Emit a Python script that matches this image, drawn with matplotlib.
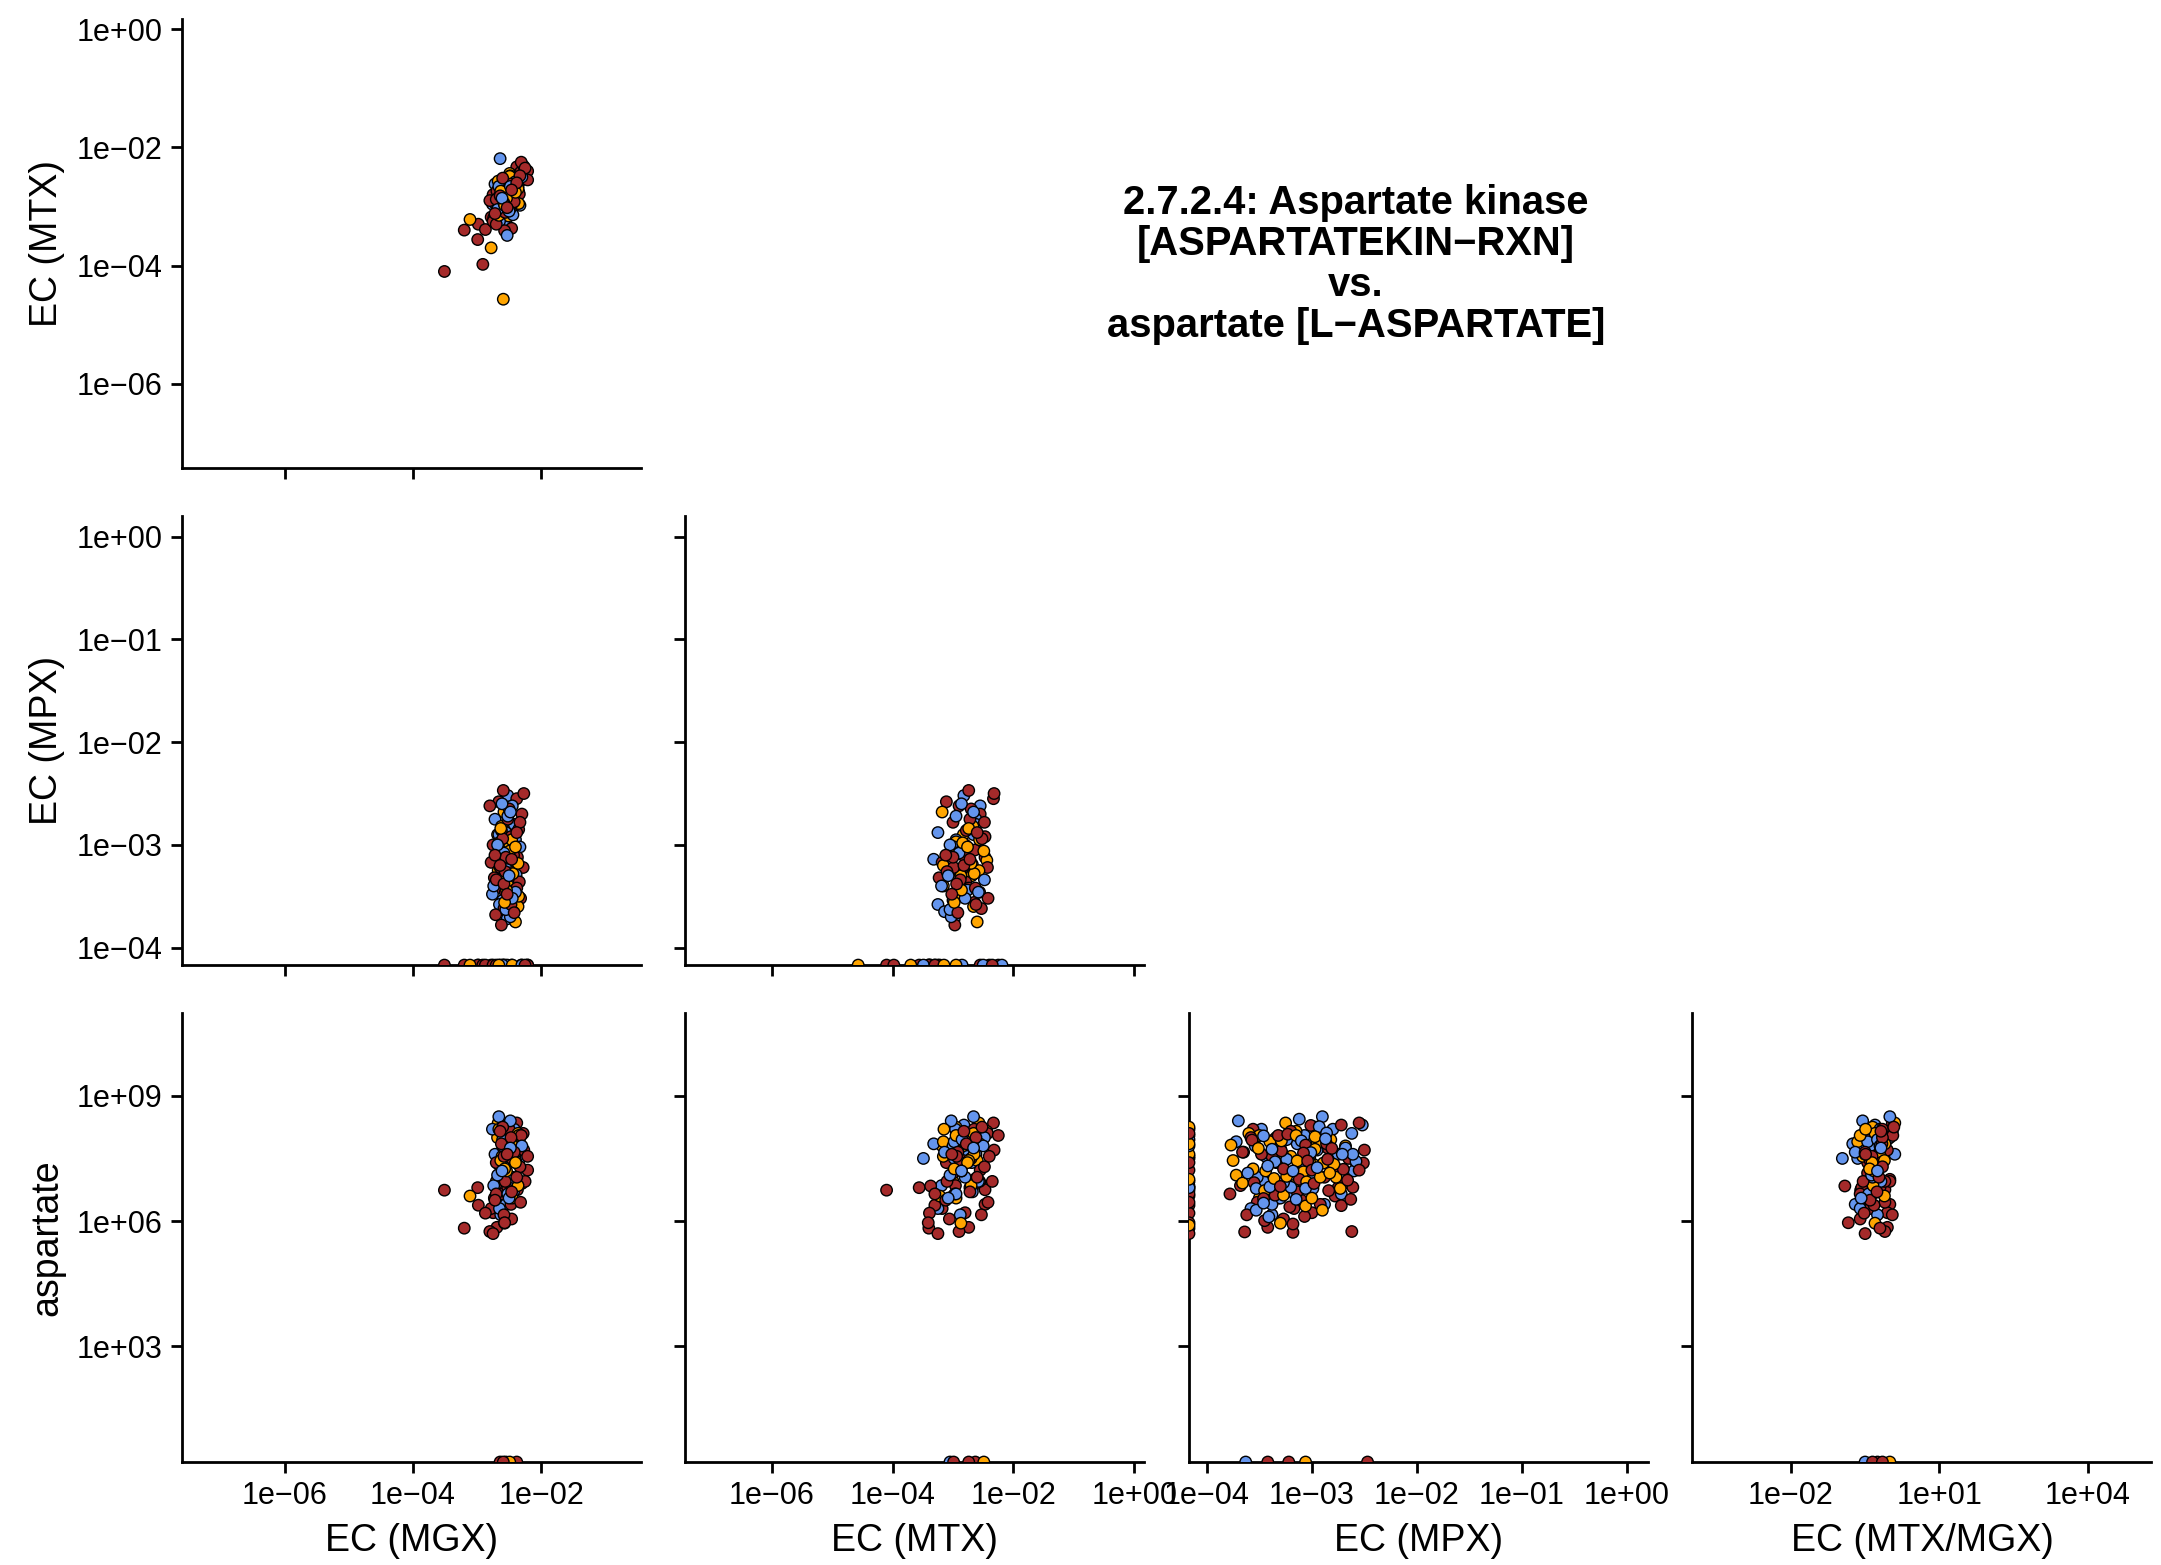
import numpy as np
import matplotlib
matplotlib.use("Agg")
import matplotlib.pyplot as plt

plt.rcParams['font.family'] = ['Liberation Sans', 'DejaVu Sans']

ND = -np.inf   # not detected (zero), drawn on the axis edge
NA = np.nan    # not measured

# samples with metagenome / metatranscriptome (log10 values)
grp = ['b', 'r', 'r', 'b', 'o', 'r', 'b', 'r', 'b', 'o',
       'r', 'b', 'o', 'r', 'b', 'o', 'r', 'b', 'o', 'r',
       'b', 'o', 'r', 'b', 'o', 'r', 'b', 'o', 'r', 'b',
       'o', 'r', 'b', 'o', 'r', 'b', 'r', 'b', 'o', 'r',
       'b', 'r', 'b', 'o', 'r', 'b', 'r', 'b', 'o', 'r',
       'b', 'r', 'b', 'o', 'r', 'r', 'b', 'r', 'o', 'r',
       'b', 'o', 'r', 'b', 'o', 'b', 'r', 'r', 'o', 'r',
       'r', 'r', 'r', 'r', 'r', 'o', 'o', 'o', 'r', 'r',
       'r', 'b', 'r', 'r', 'r', 'b', 'r', 'b', 'o', 'r',
       'b', 'r', 'o',
       'r', 'b', 'o', 'r', 'b', 'r', 'o', 'r', 'b', 'r',
       'o', 'r', 'b', 'r', 'o', 'r', 'b', 'r', 'o', 'r',
       'b', 'r', 'o', 'r', 'b', 'r', 'o', 'r', 'b', 'r']
mgx = [-2.52, -2.38, -2.66, -2.45, -2.58, -2.30, -2.72, -2.50, -2.42, -2.62,
       -2.35, -2.55, -2.68, -2.47, -2.40, -2.60, -2.75, -2.33, -2.54, -2.64,
       -2.44, -2.70, -2.37, -2.57, -2.49, -2.78, -2.43, -2.61, -2.28, -2.53,
       -2.67, -2.46, -2.39, -2.59, -2.73, -2.48, -2.34, -2.63, -2.51, -2.69,
       -2.41, -2.56, -2.76, -2.45, -2.32, -2.60, -2.50, -2.65, -2.36, -2.58,
       -2.44, -2.71, -2.53, -2.40, -2.62, -2.80, -2.48, -2.27, -2.57, -2.43,
       -2.66, -2.35, -2.52, -2.74, -2.46, -2.55, -2.38, -2.64, -2.49, -2.59,
       -3.51, -3.20, -2.98, -2.99, -2.91, -3.11, -2.78, -2.59, -2.87, -2.46,
       -2.57, -2.53, -2.21, -2.21, -2.31, -2.64, -2.75, -2.60, -2.45, -2.70,
       -2.30, -2.25, -2.66,
       -2.50, -2.58, -2.44, -2.62, -2.40, -2.55, -2.66, -2.47, -2.52, -2.70,
       -2.36, -2.60, -2.45, -2.56, -2.63, -2.42, -2.68, -2.33, -2.54, -2.72,
       -2.48, -2.58, -2.40, -2.64, -2.50, -2.38, -2.57, -2.46, -2.61, -2.53]
mtx = [-2.82, -2.33, -3.11, -2.55, -3.18, -2.55, -2.62, -3.00, -2.62, -2.67,
       -2.75, -3.25, -2.83, -2.47, -2.95, -2.95, -2.80, -2.98, -2.74, -2.64,
       -2.89, -3.00, -2.47, -3.32, -2.44, -3.18, -2.68, -3.16, -2.43, -2.88,
       -2.57, -3.06, -2.69, -2.69, -3.23, -2.48, -2.79, -2.88, -3.16, -2.74,
       -2.76, -2.56, -2.96, -2.95, -2.42, -3.00, -2.65, -3.25, -2.66, -2.53,
       -3.14, -2.96, -2.98, -2.60, -2.97, -2.90, -3.03, -2.32, -2.87, -2.83,
       -2.66, -2.95, -2.72, -3.19, -2.56, -3.05, -2.63, -2.99, -2.49, -2.74,
       -4.10, -3.40, -3.30, -3.56, -3.98, -3.22, -3.70, -4.57, -3.39, -3.37,
       -3.41, -3.49, -2.40, -2.55, -2.25, -2.19, -3.25, -2.85, -2.95, -3.30,
       -2.50, -2.35, -3.15,
       -2.70, -2.90, -2.65, -2.78, -2.58, -3.00, -2.84, -2.62, -2.95, -2.88,
       -2.70, -2.52, -2.80, -3.10, -2.74, -2.92, -3.05, -2.48, -2.86, -3.12,
       -2.66, -2.94, -2.76, -2.82, -3.08, -2.60, -2.98, -2.72, -2.86, -3.02]
mpx = [-2.52, -2.55, -2.58, -2.62, -2.68, -2.70, -2.75, -2.78, -2.80, -2.82,
       -2.85, -2.88, -2.90, -2.92, -2.95, -2.97, -3.00, -3.02, -3.04, -3.05,
       -3.07, -3.10, -3.12, -3.14, -3.15, -3.17, -3.19, -3.20, -3.22, -3.24,
       -3.25, -3.27, -3.29, -3.30, -3.32, -3.34, -3.36, -3.38, -3.40, -3.42,
       -3.44, -3.46, -3.48, -3.50, -3.52, -3.54, -3.56, -3.58, -3.60, -3.62,
       -3.65, -3.68, -3.72, -3.75, -3.78, -2.62, -3.70, -2.50, -3.30, -3.10,
       -2.90, -3.50, -2.75, -3.40, -2.95, -3.63, -3.42, -3.22, -3.06, -2.47,
       ND, ND, ND, ND, ND, ND, ND, ND, ND, ND,
       ND, ND, ND, ND, ND, ND, ND, ND, ND, ND,
       ND, ND, ND,
       -2.65, -3.08, -3.28, -2.86, -3.46, -3.12, -2.98, -3.58, -2.72, -3.34,
       -3.18, -2.94, -3.52, -3.26, -2.84, -3.66, -3.00, -2.78, -3.44, -3.10,
       -2.68, -3.38, -3.02, -3.20, -3.30, -2.88, -3.56, -3.14, -2.60, -3.48]
asp = [8.30, 8.35, 7.40, 8.10, 7.80, 6.90, 7.60, 6.60, 8.20, 7.95,
       7.75, 6.40, 8.00, 6.40, 7.70, 8.25, 6.20, 7.50, 7.65, 7.00,
       8.05, 6.95, 6.75, 7.85, 8.15, 6.30, 6.70, 7.55, 8.10, 7.95,
       8.35, 6.05, 7.40, 7.75, 6.55, 8.00, 7.95, 6.15, 7.90, 5.85,
       7.55, 6.95, 8.20, 6.55, 6.45, 7.80, 8.20, 6.30, 8.10, 6.15,
       7.65, 6.85, 7.90, 7.45, 6.65, 5.75, 8.40, 7.70, 5.95, 7.45,
       8.50, 8.05, 6.80, 6.85, 7.85, ND, ND, ND, ND, ND,
       6.74, 5.83, 6.38, 6.80, NA, 6.60, NA, NA, 6.19, 6.84,
       5.96, 7.50, 7.55, 7.22, 8.05, NA, 5.70, 7.95, 7.60, 6.65,
       7.80, 6.95, 8.20,
       7.50, 7.30, 7.60, 7.85, 6.95, 7.15, 7.35, 8.00, 6.65, 7.40,
       6.85, 8.25, 7.05, 6.95, 7.45, 7.65, 7.10, 7.30, 7.20, 6.50,
       7.75, 7.55, 7.40, 8.15, 6.55, 7.05, 7.25, 6.70, 7.20, 7.60]

# samples with metaproteome + metabolome only (log10 values)
grp_p = ['o', 'b', 'r', 'r', 'r', 'r', 'r', 'r', 'r', 'o',
         'r', 'r', 'r', 'b', 'b', 'r', 'o', 'o', 'b', 'b',
         'b', 'b', 'r', 'o', 'b', 'b', 'r', 'b', 'o', 'r',
         'r', 'o', 'r', 'b', 'r', 'o', 'b', 'b', 'r', 'o',
         'r', 'b', 'o', 'b', 'b', 'b', 'b', 'r', 'b', 'o',
         'r', 'r', 'o', 'b', 'o', 'b', 'r', 'o', 'b', 'r',
         'o', 'r', 'o', 'o', 'r', 'o', 'r', 'r', 'o', 'b',
         'b', 'r', 'o', 'b', 'o', 'r', 'r', 'b', 'o', 'r',
         'b', 'o', 'b', 'r', 'o',
         'o', 'o', 'r', 'b', 'r', 'o', 'r', 'o']
mpx_p = [-3.77, -3.12, -2.72, -3.01, -3.64, -3.18, -3.18, -3.45, -3.07, -2.90,
         -2.72, -2.63, -2.51, -2.58, -2.61, -2.55, -3.72, -3.66, -3.61, -3.53,
         -3.41, -3.46, -3.57, -3.51, -2.93, -2.86, -2.81, -2.71, -2.77, -2.70,
         -2.61, -2.73, -2.84, -2.99, -3.21, -3.06, -3.15, -3.38, -3.35, -3.27,
         -3.55, -3.53, -3.45, -3.40, -3.35, -3.42, -3.24, -3.29, -3.38, -3.29,
         -3.32, -3.23, -3.15, -3.10, -2.97, -2.87, -3.06, -2.97, -3.01, -3.08,
         -3.14, -3.04, -2.89, -2.79, -2.85, -3.08, -3.00, -3.12, -3.05, -3.20,
         -3.06, -2.98, -2.92, -3.27, -3.36, -3.30, -3.46, -3.46, -3.24, -3.27,
         -3.18, -2.83, -2.95, -2.66, -3.00,
         ND, ND, ND, ND, ND, ND, ND, ND]
asp_p = [7.82, 8.44, 8.30, 8.29, 5.74, 5.73, 5.93, 6.01, 6.11, 6.26,
         6.37, 6.52, 7.39, 7.43, 7.60, 7.22, 7.10, 6.91, 7.15, 6.26,
         6.10, 8.04, 7.94, 7.74, 8.26, 8.11, 7.74, 7.60, 7.05, 7.24,
         6.81, 6.78, 6.73, 6.78, 6.34, 6.36, 6.52, 6.40, 6.62, 6.62,
         6.92, 6.78, 6.73, 6.82, 7.42, 7.32, 7.48, 7.68, 7.72, 7.92,
         8.05, 8.08, 8.05, 7.92, 8.02, 7.97, 7.82, 7.72, 7.64, 7.63,
         7.44, 7.44, 7.39, 7.36, 7.48, 7.18, 7.22, 7.00, 6.94, 6.81,
         6.78, 6.90, 7.05, 6.92, 7.02, 6.83, 6.54, 6.43, 7.07, 7.25,
         7.20, 7.15, 7.28, 6.98, 6.55,
         8.25, 7.85, 7.40, 6.80, 8.10, 7.00, 6.45, 5.90]

colours = {'r': '#A52A2A', 'b': '#6495ED', 'o': '#FFA500'}

# axis ranges (log10) and tick decades
lim = {'mgx': (-7.61, -0.44), 'mtx': (-7.43, 0.17), 'mpx': (-4.17, 0.2),
       'asp': (0.23, 10.98), 'ratio': (-3.99, 5.29)}
ticks = {'mgx': [-6, -4, -2], 'mtx': [-6, -4, -2, 0], 'mpx': [-4, -3, -2, -1, 0],
         'asp': [3, 6, 9], 'ratio': [-2, 1, 4]}
names = {'mgx': 'EC (MGX)', 'mtx': 'EC (MTX)', 'mpx': 'EC (MPX)',
         'asp': 'aspartate', 'ratio': 'EC (MTX/MGX)'}


def lab(e):
    return '1e' + ('+' if e >= 0 else '\u2212') + '%02d' % abs(e)


def to_plot(v, key):
    v = np.asarray(v, dtype=float)
    out = 10.0 ** v
    return np.where(v == -np.inf, 10.0 ** lim[key][0], out)


log_data = {'mgx': mgx, 'mtx': mtx, 'mpx': mpx, 'asp': asp,
            'ratio': list(np.array(mtx) - np.array(mgx))}

fig, axes = plt.subplots(3, 4, figsize=(10.805, 7.825), dpi=200)
fig.subplots_adjust(left=0.0842, right=0.9956, bottom=0.0658, top=0.9877,
                    wspace=0.097, hspace=0.107)

panels = {(0, 0): ('mgx', 'mtx'),
          (1, 0): ('mgx', 'mpx'), (1, 1): ('mtx', 'mpx'),
          (2, 0): ('mgx', 'asp'), (2, 1): ('mtx', 'asp'),
          (2, 2): ('mpx', 'asp'), (2, 3): ('ratio', 'asp')}

for r in range(3):
    for c in range(4):
        ax = axes[r, c]
        if (r, c) not in panels:
            ax.axis('off')
            continue
        xk, yk = panels[(r, c)]
        xs = to_plot(log_data[xk], xk)
        ys = to_plot(log_data[yk], yk)
        cols = [colours[g] for g in grp]
        if (r, c) == (2, 2):
            xs = np.concatenate([xs, to_plot(mpx_p, 'mpx')])
            ys = np.concatenate([ys, to_plot(asp_p, 'asp')])
            cols = cols + [colours[g] for g in grp_p]
        ax.scatter(xs, ys, s=17, c=cols, edgecolors='black', linewidths=0.5, zorder=3)
        ax.set_xscale('log')
        ax.set_yscale('log')
        ax.set_xlim(10.0 ** lim[xk][0], 10.0 ** lim[xk][1])
        ax.set_ylim(10.0 ** lim[yk][0], 10.0 ** lim[yk][1])
        ax.set_xticks([10.0 ** e for e in ticks[xk]])
        ax.set_yticks([10.0 ** e for e in ticks[yk]])
        ax.minorticks_off()
        if r == 2:
            ax.set_xticklabels([lab(e) for e in ticks[xk]])
            ax.set_xlabel(names[xk], fontsize=13.5, labelpad=4)
        else:
            ax.set_xticklabels([])
        if c == 0:
            ax.set_yticklabels([lab(e) for e in ticks[yk]])
            ax.set_ylabel(names[yk], fontsize=13.5, labelpad=4)
        else:
            ax.set_yticklabels([])
        for s in ['top', 'right']:
            ax.spines[s].set_visible(False)
        for s in ['left', 'bottom']:
            ax.spines[s].set_linewidth(1.0)
        ax.tick_params(direction='out', length=4, width=1.0, labelsize=11,
                       pad=3, colors='black')

fig.text(0.6275, 0.831,
         "2.7.2.4: Aspartate kinase\n[ASPARTATEKIN\u2212RXN]\nvs.\naspartate [L\u2212ASPARTATE]",
         ha='center', va='center', fontsize=14.4, fontweight='bold', linespacing=1.09)

fig.savefig('out.png', dpi=200)
